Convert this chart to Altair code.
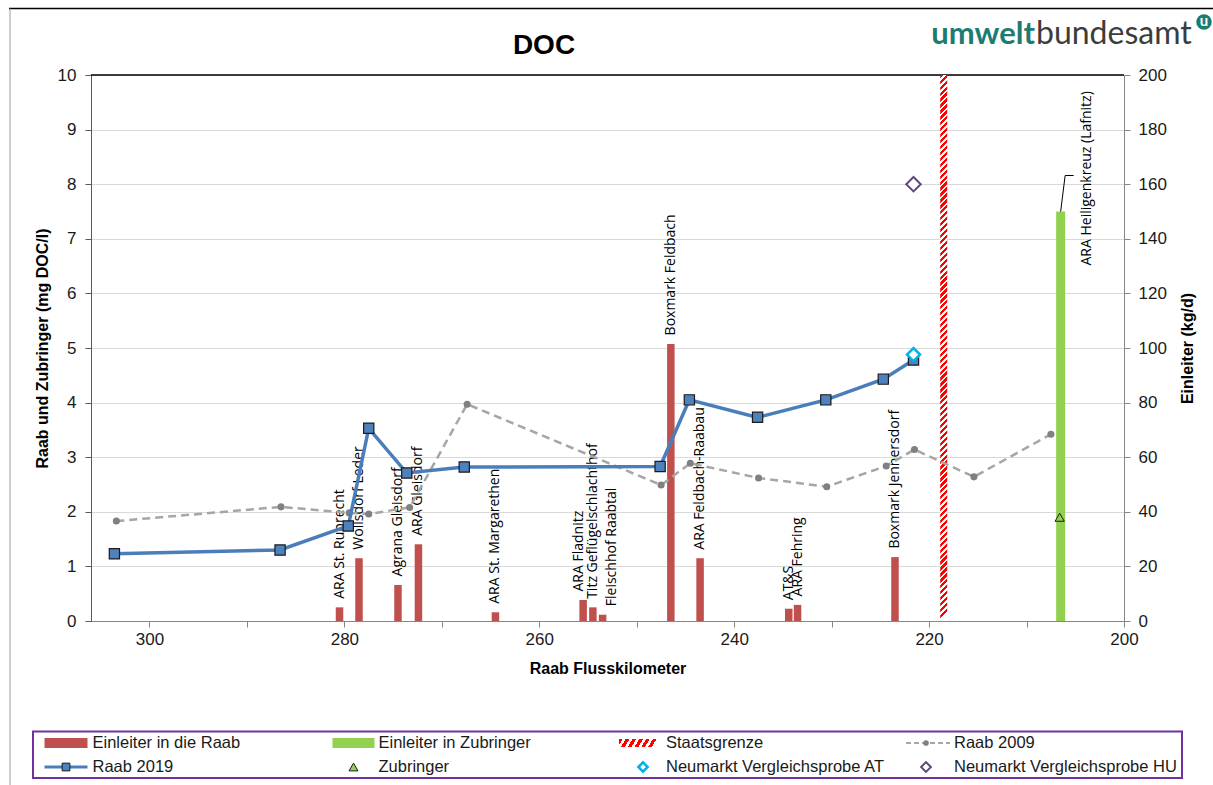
import altair as alt
import pandas as pd

# ---------------------------------------------------------------- data
# Raab 2019 (river km, mg DOC/l)
raab2019_km = [303.6, 286.6, 279.6, 277.5, 273.6, 267.7, 247.6, 244.6, 237.6, 230.6, 224.7, 221.6]
raab2019_doc = [1.23, 1.30, 1.74, 3.53, 2.71, 2.82, 2.83, 4.05, 3.73, 4.05, 4.43, 4.78]

# Raab 2009 (river km, mg DOC/l)
raab2009_km = [303.4, 286.5, 279.5, 277.5, 273.3, 267.4, 247.5, 244.5, 237.5, 230.5, 224.4, 221.5, 215.4, 207.5]
raab2009_doc = [1.83, 2.09, 1.98, 1.96, 2.08, 3.97, 2.49, 2.89, 2.62, 2.46, 2.84, 3.14, 2.64, 3.42]

# tributary sample and Neumarkt comparison samples
zubringer_km = [206.6]
zubringer_doc = [1.90]
neumarkt_at_km = [221.6]
neumarkt_at_doc = [4.88]
neumarkt_hu_km = [221.6]
neumarkt_hu_doc = [8.0]

# dischargers into the Raab (kg/d)
einleiter_name = ["ARA St. Ruprecht", "Wollsdorf Leder", "Agrana Gleisdorf", "ARA Gleisdorf",
                  "ARA St. Margarethen", "ARA Fladnitz", "Titz Geflügelschlachthof",
                  "Fleischhof Raabtal", "Boxmark Feldbach", "ARA Feldbach-Raabau", "AT&S",
                  "ARA Fehring", "Boxmark Jennersdorf"]
einleiter_km = [280.5, 278.5, 274.5, 272.4, 264.5, 255.5, 254.5, 253.5, 246.5, 243.5, 234.4, 233.5, 223.5]
einleiter_kgd = [5.0, 23.0, 13.2, 28.1, 3.2, 7.7, 5.0, 2.3, 101.5, 23.0, 4.5, 5.9, 23.4]

# dischargers into tributaries (kg/d)
zub_einleiter_name = ["ARA Heiligenkreuz (Lafnitz)"]
zub_einleiter_km = [206.5]
zub_einleiter_kgd = [150.0]

# national border (river km)
staatsgrenze_km = [218.5]

# ---------------------------------------------------------------- layout
W, H = 1033, 546
PAD_L, PAD_T = 91, 75
FONT = "Liberation Sans"
LABEL_FONT = "Open Sans"
RED, GREEN, BLUE = "#C0504D", "#92D050", "#4F81BD"

df2019 = pd.DataFrame({"km": raab2019_km, "doc": raab2019_doc})
df2009 = pd.DataFrame({"km": raab2009_km, "doc": raab2009_doc})
dfZub = pd.DataFrame({"km": zubringer_km, "doc": zubringer_doc})
dfAT = pd.DataFrame({"km": neumarkt_at_km, "doc": neumarkt_at_doc})
dfHU = pd.DataFrame({"km": neumarkt_hu_km, "doc": neumarkt_hu_doc})
dfE = pd.DataFrame({"name": einleiter_name, "km": einleiter_km, "kgd": einleiter_kgd})
dfZE = pd.DataFrame({"name": zub_einleiter_name, "km": zub_einleiter_km, "kgd": zub_einleiter_kgd})
dfB = pd.DataFrame({"km": staatsgrenze_km})
one = pd.DataFrame({"n": [0]})

X_SCALE = alt.Scale(domain=[200, 306], reverse=True, nice=False, zero=False)
X_AXIS = alt.Axis(
    title="Raab Flusskilometer", values=list(range(200, 301, 10)),
    labelExpr="datum.value % 20 == 0 ? datum.label : ''",
    grid=False, domainColor="#868686", tickColor="#868686", tickSize=6,
    labelFont=FONT, labelFontSize=17, labelColor="#1A1A1A", labelPadding=4, labelFlush=False,
    titleFont=FONT, titleFontSize=16, titleFontWeight="bold", titleColor="black",
    titleY=47, titleBaseline="middle",
)
YL_SCALE = alt.Scale(domain=[0, 10], nice=False, zero=False)
YL_AXIS = alt.Axis(
    orient="left", title="Raab und Zubringer (mg DOC/l)", values=list(range(0, 11)),
    grid=True, gridColor="#D9D9D9", gridWidth=1,
    domainColor="#595959", tickColor="#595959", tickSize=6,
    labelFont=FONT, labelFontSize=17, labelColor="#1A1A1A", labelPadding=9, labelFlush=False,
    titleFont=FONT, titleFontSize=16, titleFontWeight="bold", titleColor="black",
    titleAngle=270, titleX=-49, titleY=H / 2, titleAlign="center", titleBaseline="middle",
)
YR_SCALE = alt.Scale(domain=[0, 200], nice=False, zero=False)
YR_AXIS = alt.Axis(
    orient="right", title="Einleiter (kg/d)", values=list(range(0, 201, 20)),
    grid=False, domainColor="#868686", tickColor="#868686", tickSize=6,
    labelFont=FONT, labelFontSize=17, labelColor="#1A1A1A", labelPadding=8, labelFlush=False,
    titleFont=FONT, titleFontSize=16, titleFontWeight="bold", titleColor="black",
    titleAngle=270, titleX=63, titleY=H / 2, titleAlign="center", titleBaseline="middle",
)


def X(field="km"):
    return alt.X(f"{field}:Q", scale=X_SCALE, axis=X_AXIS)


def YL(field="doc"):
    return alt.Y(f"{field}:Q", scale=YL_SCALE, axis=YL_AXIS)


def YR(field="kgd"):
    return alt.Y(f"{field}:Q", scale=YR_SCALE, axis=YR_AXIS)


def stripes(n, x2, y2, share=0.55, c1="#FF0000", c2="#FFFFFF"):
    """Hard-edged repeating gradient used as a diagonal hatch."""
    stops = []
    for i in range(n):
        a, b, c = i / n, (i + share) / n, (i + 1) / n
        stops += [alt.GradientStop(color=c1, offset=a), alt.GradientStop(color=c1, offset=b),
                  alt.GradientStop(color=c2, offset=b), alt.GradientStop(color=c2, offset=c)]
    return alt.LinearGradient(gradient="linear", stops=stops, x1=0, y1=0, x2=x2, y2=y2)


# ---------------------------------------------------------------- right axis (kg/d), drawn first
bars = alt.Chart(dfE).mark_rule(color=RED, strokeWidth=7.5, strokeCap="butt").encode(
    x=X(), y=YR(), y2=alt.Y2(datum=0))
bars_zub = alt.Chart(dfZE).mark_rule(color=GREEN, strokeWidth=9, strokeCap="butt").encode(
    x=X(), y=YR(), y2=alt.Y2(datum=0))

LABEL_SHIFT = {"ARA Fladnitz": -4, "Fleischhof Raabtal": 9.5}


def bar_labels(names, dy):
    return alt.Chart(dfE).transform_filter(
        alt.FieldOneOfPredicate(field="name", oneOf=names)
    ).mark_text(angle=270, align="left", baseline="middle", dx=8.5, dy=dy,
                font=LABEL_FONT, fontSize=14, color="black").encode(x=X(), y=YR(), text="name:N")


labels = [bar_labels([n for n in einleiter_name if n not in LABEL_SHIFT], 0)]
labels += [bar_labels([n], d) for n, d in LABEL_SHIFT.items()]

zub_label = alt.Chart(dfZE).mark_text(
    angle=270, align="left", baseline="middle", dx=-54, dy=26,
    font=LABEL_FONT, fontSize=14, color="black").encode(x=X(), y=YR(), text="name:N")
leader1 = alt.Chart(dfZE).mark_rule(color="black", strokeWidth=1, x2Offset=4.5, y2Offset=-36).encode(
    x=X(), y=YR(), x2=alt.X2("km:Q"), y2=alt.Y2("kgd:Q"))
leader2 = alt.Chart(dfZE).mark_rule(
    color="black", strokeWidth=1, xOffset=4.5, yOffset=-36, x2Offset=13, y2Offset=-36
).encode(x=X(), y=YR(), x2=alt.X2("km:Q"), y2=alt.Y2("kgd:Q"))

right = alt.layer(bars, bars_zub, *labels, zub_label, leader1, leader2)

# ---------------------------------------------------------------- left axis (mg DOC/l)
top_line = alt.Chart(one).mark_rule(color="black", strokeWidth=1.3).encode(
    y=alt.Y(datum=10, scale=YL_SCALE, axis=YL_AXIS), x=alt.value(0), x2=alt.value(W))

border = alt.Chart(dfB).mark_rect(fill=stripes(92, 7 / H, 1), xOffset=-3.5, x2Offset=3.5).encode(
    x=X(), x2=alt.X2("km:Q"),
    y=alt.Y(datum=10, scale=YL_SCALE, axis=YL_AXIS), y2=alt.Y2(datum=0))

line2009 = alt.Chart(df2009).mark_line(color="#A6A6A6", strokeWidth=2.5, strokeDash=[8, 5]).encode(
    x=X(), y=YL())
pts2009 = alt.Chart(df2009).mark_circle(size=50, color="#808080", opacity=1).encode(x=X(), y=YL())

line2019 = alt.Chart(df2019).mark_line(color="#4A7EBB", strokeWidth=3.5).encode(x=X(), y=YL())
pts2019 = alt.Chart(df2019).mark_point(
    shape="square", filled=True, fill=BLUE, stroke="#1B1B1B", strokeWidth=1.2, size=105, opacity=1
).encode(x=X(), y=YL())

zub = alt.Chart(dfZub).mark_point(
    shape="triangle-up", filled=True, fill=GREEN, stroke="#1B1B1B", strokeWidth=1, size=85, opacity=1
).encode(x=X(), y=YL())
at = alt.Chart(dfAT).mark_point(
    shape="diamond", filled=True, fill="white", stroke="#00B0F0", strokeWidth=2.5, size=170, opacity=1
).encode(x=X(), y=YL())
hu = alt.Chart(dfHU).mark_point(
    shape="diamond", filled=True, fill="white", stroke="#60497A", strokeWidth=2, size=210, opacity=1
).encode(x=X(), y=YL())

left = alt.layer(top_line, border, line2009, pts2009, line2019, pts2019, zub, at, hu)

# ---------------------------------------------------------------- title, logo, frame


def px(x, y):
    """Page pixel position -> plot-relative value channels."""
    return {"x": alt.value(x - PAD_L), "y": alt.value(y - PAD_T)}


def text_at(txt, x, y, **kw):
    props = dict(font=FONT, fontSize=16.5, color="#1A1A1A", align="left", baseline="middle")
    props.update(kw)
    return alt.Chart(one).mark_text(text=txt, **props).encode(**px(x, y))


title = text_at("DOC", 544, 46, fontSize=28, fontWeight="bold", color="black", align="center")
logo_a = text_at("umwelt", 1035, 44, font="Lato", fontSize=31, fontWeight="bold",
                 color="#1E7B72", align="right", baseline="alphabetic")
logo_b = text_at("bundesamt", 1036, 44, font="Lato", fontSize=32, color="#3C3C3C",
                 baseline="alphabetic")
logo_dot = alt.Chart(one).mark_point(shape="circle", filled=True, color="#1E7B72", size=240,
                                     opacity=1).encode(**px(1204, 22))
logo_u = text_at("u", 1204, 21, font="Lato", fontSize=15, fontWeight="bold", color="white",
                 align="center")

frame_top = alt.Chart(one).mark_rule(color="black", strokeWidth=1.5).encode(
    x=alt.value(9 - PAD_L), x2=alt.value(1213 - PAD_L), y=alt.value(8.5 - PAD_T))
frame_left = alt.Chart(one).mark_rule(color="#9A9A9A", strokeWidth=1).encode(
    x=alt.value(10 - PAD_L), y=alt.value(8.5 - PAD_T), y2=alt.value(785 - PAD_T))

# ---------------------------------------------------------------- legend
legend_box = alt.Chart(one).mark_rect(fill="white", stroke="#7030A0", strokeWidth=2).encode(
    x=alt.value(33 - PAD_L), x2=alt.value(1182 - PAD_L),
    y=alt.value(731.5 - PAD_T), y2=alt.value(778 - PAD_T))

R1, R2 = 743, 767


def swatch(x0, x1, y0, y1, **kw):
    return alt.Chart(one).mark_rect(**kw).encode(
        x=alt.value(x0 - PAD_L), x2=alt.value(x1 - PAD_L),
        y=alt.value(y0 - PAD_T), y2=alt.value(y1 - PAD_T))


def seg(x0, x1, y, **kw):
    return alt.Chart(one).mark_rule(**kw).encode(
        x=alt.value(x0 - PAD_L), x2=alt.value(x1 - PAD_L), y=alt.value(y - PAD_T))


def sym(x, y, **kw):
    return alt.Chart(one).mark_point(filled=True, opacity=1, **kw).encode(**px(x, y))


legend = [
    legend_box,
    swatch(44.5, 87.5, R1 - 5, R1 + 5, color=RED),
    text_at("Einleiter in die Raab", 92.5, R1),
    swatch(332.5, 374.5, R1 - 5, R1 + 5, color=GREEN),
    text_at("Einleiter in Zubringer", 378.5, R1),
    swatch(619, 659, R1 - 4, R1 + 4, fill=stripes(6, 1, 0.12)),
    text_at("Staatsgrenze", 666, R1),
    seg(906, 950, R1, color="#A6A6A6", strokeWidth=2, strokeDash=[5, 3]),
    sym(926, R1, shape="circle", color="#808080", size=32),
    text_at("Raab 2009", 954, R1),
    seg(44.5, 87.5, R2, color="#4A7EBB", strokeWidth=3),
    sym(66, R2, shape="square", fill=BLUE, stroke="#1B1B1B", strokeWidth=1, size=60),
    text_at("Raab 2019", 92.5, R2),
    sym(353.5, R2, shape="triangle-up", fill=GREEN, stroke="#1B1B1B", strokeWidth=1, size=80),
    text_at("Zubringer", 378.5, R2),
    sym(643, R2, shape="diamond", fill="white", stroke="#00B0F0", strokeWidth=2.5, size=85),
    text_at("Neumarkt Vergleichsprobe AT", 666, R2),
    sym(926, R2, shape="diamond", fill="white", stroke="#60497A", strokeWidth=2, size=95),
    text_at("Neumarkt Vergleichsprobe HU", 954, R2),
]

chart = alt.layer(
    right, left, title, logo_a, logo_b, logo_dot, logo_u, frame_top, frame_left, *legend
).resolve_scale(y="independent").properties(
    width=W, height=H,
    autosize=alt.AutoSizeParams(type="none"),
    padding={"left": PAD_L, "top": PAD_T, "right": 1213 - PAD_L - W, "bottom": 785 - PAD_T - H},
    background="white",
).configure_view(strokeWidth=0)

chart.save("out.html", embed_options={"renderer": "svg", "actions": False})
